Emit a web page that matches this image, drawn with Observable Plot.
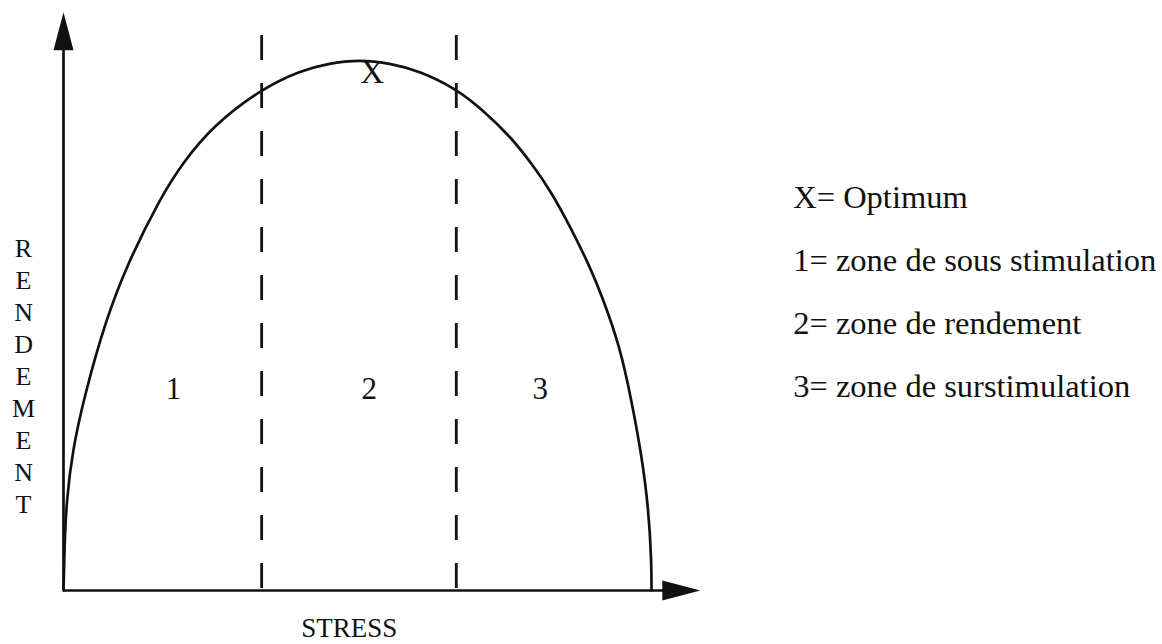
<!DOCTYPE html>
<html><head><meta charset="utf-8">
<script src="https://cdn.jsdelivr.net/npm/d3@7"></script>
<script src="https://cdn.jsdelivr.net/npm/@observablehq/plot@0.6"></script>
<style>body{margin:0;background:#fff;} svg{display:block}</style>
</head><body><div id="chart"></div>
<script>
// --- data (stress in % of the range, rendement in % of the optimum) ---
const stress    = [0, 0.17, 0.51, 1.53, 3.57, 7.14, 10.9, 16.5, 20.2, 25.3, 33.7, 40.3, 44.9, 50.3, 55.8, 60.4, 66.8, 71.4, 76.0, 79.9, 82.8, 86.2, 89.6, 91.8, 94.6, 96.6, 98.3, 99.5, 100, 100];
const rendement = [0, 8.5, 16.9, 26.4, 36.7, 50.8, 61.6, 74.0, 80.4, 87.4, 94.5, 97.9, 99.2, 100, 99.2, 97.9, 94.5, 90.4, 85.5, 80.0, 75.3, 68.5, 60.8, 54.8, 46.0, 35.8, 25.6, 15.4, 5.3, 0];
const zoneBounds = [33.7, 66.8];
const zoneLabels = ["1", "2", "3"];
const zoneLabelX = [18.7, 52.0, 81.1];
const optimum = {stress: 50.3, rendement: 100, label: "X"};
const legendItems = ["X= Optimum", "1= zone de sous stimulation", "2= zone de rendement", "3= zone de surstimulation"];
const xTitle = "STRESS";
const yTitle = "RENDEMENT";

// --- layout ---
const W = 1162, H = 644;
const font = "Liberation Serif, Times New Roman, serif";
const curve = stress.map((s, i) => ({s, r: rendement[i]}));
const arrowHead = {
  draw(ctx) { ctx.moveTo(0, 0); ctx.lineTo(10, 38); ctx.lineTo(-10, 38); ctx.closePath(); }
};
const xTip = 108.3, yTip = 108.9, dashTop = 104.5;
const legendY = [74.0, 62.1, 50.3, 38.4];
const legend = legendItems.map((t, i) => ({t, y: legendY[i]}));

const chart = Plot.plot({
  width: W, height: H,
  margin: 0,
  x: {domain: [0, 100], range: [63, 651], axis: null},
  y: {domain: [0, 100], range: [590, 59], axis: null},
  style: {fontFamily: font, background: "#fff", color: "#111"},
  marks: [
    // axes
    Plot.ruleY([0], {x1: 0, x2: xTip - 3, stroke: "#111", strokeWidth: 2.7}),
    Plot.ruleX([0], {y1: 0, y2: yTip - 3, stroke: "#111", strokeWidth: 2.7}),
    Plot.dot([{x: 0, y: yTip}], {x: "x", y: "y", r: 5, symbol: arrowHead, fill: "#111", stroke: "none"}),
    Plot.dot([{x: xTip, y: 0}], {x: "x", y: "y", r: 5, symbol: arrowHead, rotate: 90, fill: "#111", stroke: "none"}),
    // zone boundaries
    Plot.ruleX(zoneBounds, {y1: dashTop, y2: 0, stroke: "#111", strokeWidth: 2.8, strokeDasharray: "25,23"}),
    // curve
    Plot.line(curve, {x: "s", y: "r", curve: "basis", stroke: "#111", strokeWidth: 2.7}),
    // optimum
    Plot.text([optimum], {x: "stress", y: "rendement", text: "label", dx: 13, dy: 13, fontSize: 33, fill: "#111"}),
    // zone labels
    Plot.text(zoneLabels, {x: (d, i) => zoneLabelX[i], y: () => 38.0, text: d => d, fontSize: 31, fill: "#111"}),
    // axis titles
    Plot.text([xTitle], {x: () => 48.6, y: () => -7.2, text: d => d, fontSize: 27, fill: "#111"}),
    Plot.text([yTitle.split("").join("\n")], {x: () => -6.8, y: () => 40.7, text: d => d, fontSize: 26, lineHeight: 32 / 26, fill: "#111"}),
    // legend
    Plot.text(legend, {x: () => 124.1, y: "y", text: "t", textAnchor: "start", fontSize: 32.5, fill: "#111"})
  ]
});
document.getElementById("chart").append(chart);
</script>
</body></html>
